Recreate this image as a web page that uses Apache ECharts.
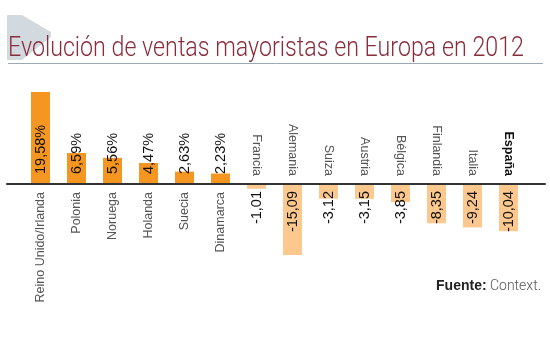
<!DOCTYPE html>
<html>
<head>
<meta charset="utf-8">
<script src="https://cdn.jsdelivr.net/npm/echarts@6/dist/echarts.min.js"></script>
<style>
html,body{margin:0;padding:0;background:#fff;}
#c{width:550px;height:346px;}
</style>
</head>
<body>
<div id="c"></div>
<script>
const categories = ['Reino Unido/Irlanda','Polonia','Noruega','Holanda','Suecia','Dinamarca','Francia','Alemania','Suiza','Austria','Bélgica','Finlandia','Italia','España'];
const values = [19.58, 6.59, 5.56, 4.47, 2.63, 2.23, -1.01, -15.09, -3.12, -3.15, -3.85, -8.35, -9.24, -10.04];
const titleText = 'Evolución de ventas mayoristas en Europa en 2012';
const sourceLabel = 'Fuente:';
const sourceText = 'Context.';
const highlight = 'España';

const posVals = values.map(v => v > 0 ? v : '-');
const negVals = values.map(v => v < 0 ? v : '-');
const fmt = v => v.toFixed(2).replace('.', ',');

const chart = echarts.init(document.getElementById('c'), null, {renderer: 'canvas'});
const yMin = -20, yMax = 22;
const gridTop = 80.6, gridHeight = 197.4;
const zeroY = gridTop + gridHeight * yMax / (yMax - yMin);

function catLabel(showPositive) {
  return {
    show: true,
    rotate: 90,
    margin: 8,
    fontFamily: 'Liberation Sans',
    fontSize: 12.5,
    color: '#555',
    interval: 0,
    formatter: function (val, idx) {
      const v = values[idx];
      if ((v > 0) !== showPositive) return '';
      if (val === highlight) return '{b|' + val + '}';
      return val;
    },
    rich: { b: { fontWeight: 'bold', color: '#111', fontFamily: 'Liberation Sans', fontSize: 12.5 } }
  };
}

const nb = { containLabel: false, outerBoundsMode: 'none' };

chart.setOption({
  animation: false,
  graphic: [
    { type: 'polygon', z: -1, shape: { points: [[7,15],[22,15],[51,32],[51,37],[22,60],[7,60]] }, style: { fill: '#d2dae0' } },
    { type: 'text', x: 8, y: 36, scaleX: 0.86, z: 5,
      style: { text: titleText, fontFamily: 'Roboto', fontWeight: 300, fontSize: 27, fill: '#8b2c3c', verticalAlign: 'top', align: 'left' } },
    { type: 'line', shape: { x1: 8, y1: 63.5, x2: 543, y2: 63.5 }, style: { stroke: '#98a9b6', lineWidth: 1 } },
    { type: 'text', right: 9, top: 279, style: {
        text: '{a|' + sourceLabel + '} {b|' + sourceText + '}',
        rich: {
          a: { fontFamily: 'Liberation Sans', fontWeight: 'bold', fontSize: 14, fill: '#222' },
          b: { fontFamily: 'Roboto', fontWeight: 300, fontSize: 14, fill: '#555' }
        }
    } }
  ],
  grid: [
    Object.assign({ left: 22.5, right: 23.5, top: gridTop, height: gridHeight }, nb),
    Object.assign({ left: 7, right: 5, top: gridTop, height: gridHeight }, nb),
    Object.assign({ left: 22.5, right: 23.5, top: gridTop, height: zeroY - gridTop }, nb),
    Object.assign({ left: 22.5, right: 23.5, top: zeroY, height: gridTop + gridHeight - zeroY }, nb)
  ],
  xAxis: [
    { type: 'category', gridIndex: 0, data: categories, show: false },
    { type: 'category', gridIndex: 1, data: [''], z: 10,
      axisLine: { show: true, onZero: true, lineStyle: { color: '#333', width: 2 } },
      axisTick: { show: false }, axisLabel: { show: false } },
    { type: 'category', gridIndex: 2, position: 'bottom', data: categories,
      axisLine: { show: false, onZero: false }, axisTick: { show: false }, axisLabel: catLabel(true) },
    { type: 'category', gridIndex: 3, position: 'top', data: categories,
      axisLine: { show: false, onZero: false }, axisTick: { show: false }, axisLabel: catLabel(false) }
  ],
  yAxis: [
    { type: 'value', gridIndex: 0, min: yMin, max: yMax, show: false, splitLine: { show: false } },
    { type: 'value', gridIndex: 1, min: yMin, max: yMax, show: false, splitLine: { show: false } },
    { type: 'value', gridIndex: 2, min: 0, max: yMax, show: false, splitLine: { show: false } },
    { type: 'value', gridIndex: 3, min: yMin, max: 0, show: false, splitLine: { show: false } }
  ],
  series: [
    { type: 'bar', xAxisIndex: 0, yAxisIndex: 0, data: posVals, barWidth: 19, barGap: '-100%',
      itemStyle: { color: '#f4961f' },
      label: { show: true, position: 'insideBottom', distance: 10, rotate: 90, align: 'left', verticalAlign: 'middle',
        fontFamily: 'Liberation Sans', fontSize: 14.5, color: '#111',
        formatter: p => fmt(p.value) + '%' } },
    { type: 'bar', xAxisIndex: 0, yAxisIndex: 0, data: negVals, barWidth: 19, barGap: '-100%',
      itemStyle: { color: '#fcc88d' },
      label: { show: true, position: 'insideTop', distance: 7, rotate: 90, align: 'right', verticalAlign: 'middle',
        fontFamily: 'Liberation Sans', fontSize: 14.5, color: '#111',
        formatter: p => fmt(p.value) } }
  ]
});
</script>
</body>
</html>
